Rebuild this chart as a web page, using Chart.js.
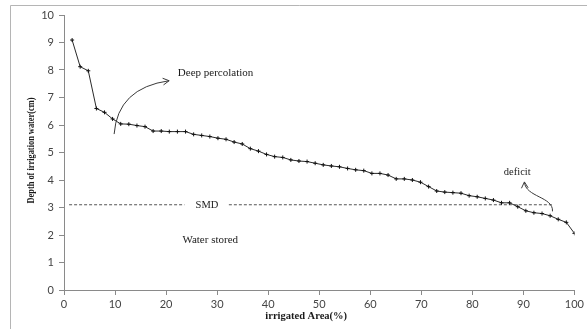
<!DOCTYPE html>
<html>
<head>
<meta charset="utf-8">
<script src="https://cdn.jsdelivr.net/npm/chart.js@4"></script>
<style>
  html, body { margin: 0; padding: 0; background: #fff; }
  #wrap { width: 587px; height: 329px; }
</style>
</head>
<body>
<div id="wrap"><canvas id="c" width="587" height="329"></canvas></div>
<script>
// ---- data ----
const irrigatedArea = [1.59, 3.17, 4.76, 6.35, 7.94, 9.52, 11.11, 12.70, 14.29, 15.87,
  17.46, 19.05, 20.63, 22.22, 23.81, 25.40, 26.98, 28.57, 30.16, 31.75,
  33.33, 34.92, 36.51, 38.10, 39.68, 41.27, 42.86, 44.44, 46.03, 47.62,
  49.21, 50.79, 52.38, 53.97, 55.56, 57.14, 58.73, 60.32, 61.90, 63.49,
  65.08, 66.67, 68.25, 69.84, 71.43, 73.02, 74.60, 76.19, 77.78, 79.37,
  80.95, 82.54, 84.13, 85.71, 87.30, 88.89, 90.48, 92.06, 93.65, 95.24,
  96.83, 98.41, 100];
const depthOfWater = [9.09, 8.12, 7.97, 6.60, 6.46, 6.22, 6.04, 6.03, 5.98, 5.94,
  5.78, 5.78, 5.76, 5.76, 5.76, 5.66, 5.62, 5.58, 5.52, 5.48,
  5.38, 5.31, 5.14, 5.05, 4.93, 4.85, 4.82, 4.73, 4.69, 4.67,
  4.61, 4.55, 4.51, 4.48, 4.42, 4.37, 4.34, 4.24, 4.24, 4.18,
  4.04, 4.04, 4.00, 3.92, 3.76, 3.60, 3.56, 3.54, 3.52, 3.43,
  3.39, 3.33, 3.27, 3.17, 3.17, 3.03, 2.88, 2.81, 2.78, 2.70,
  2.57, 2.46, 2.06];
const smdLevel = 3.1;
const smdSegmentX = [1.0, 23.6, null, 32.3, 95.6];   // null = gap for the "SMD" label
const xTickValues = [0, 10, 20, 30, 40, 50, 60, 70, 80, 90, 100];
const yTickValues = [0, 1, 2, 3, 4, 5, 6, 7, 8, 9, 10];
const xTitle = 'irrigated Area(%)';
const yTitle = 'Depth of irrigation water(cm)';
const notes = [
  { text: 'Deep percolation', x: 22.3, y: 7.9, align: 'left', size: 11 },
  { text: 'SMD', x: 28.0, y: 3.1, align: 'center', size: 10.5 },
  { text: 'Water stored', x: 23.2, y: 1.82, align: 'left', size: 11 },
  { text: 'deficit', x: 88.8, y: 4.29, align: 'center', size: 10.5 }
];

// ---- chart ----
const mainSeries = irrigatedArea.map((x, i) => ({ x: x, y: depthOfWater[i] }));
const smdSeries = smdSegmentX.map((x, i) =>
  x === null ? { x: (smdSegmentX[i - 1] + smdSegmentX[i + 1]) / 2, y: null } : { x: x, y: smdLevel });

const axisColor = '#8a8a8a';
const tickFont = { family: 'Lato, "Open Sans", sans-serif', size: 11 };

function arrow(ctx, pts, bez) {
  ctx.beginPath();
  ctx.moveTo(pts[0].x, pts[0].y);
  if (bez === 2) ctx.quadraticCurveTo(pts[1].x, pts[1].y, pts[2].x, pts[2].y);
  else ctx.bezierCurveTo(pts[1].x, pts[1].y, pts[2].x, pts[2].y, pts[3].x, pts[3].y);
  ctx.stroke();
  const e = pts[pts.length - 1], p = pts[pts.length - 2];
  const a = Math.atan2(e.y - p.y, e.x - p.x);
  const L = 7, w = 0.5;
  ctx.beginPath();
  ctx.moveTo(e.x - L * Math.cos(a - w), e.y - L * Math.sin(a - w));
  ctx.lineTo(e.x, e.y);
  ctx.lineTo(e.x - L * Math.cos(a + w), e.y - L * Math.sin(a + w));
  ctx.stroke();
}

const decor = {
  id: 'decor',
  beforeDraw(chart) {
    const ctx = chart.ctx;
    ctx.save();
    ctx.strokeStyle = '#b5b5b5';
    ctx.lineWidth = 1;
    ctx.beginPath();
    ctx.moveTo(10.5, 330);
    ctx.lineTo(10.5, 5.5);
    ctx.lineTo(590, 5.5);
    ctx.stroke();
    ctx.restore();
  },
  afterDraw(chart) {
    const ctx = chart.ctx;
    const xs = chart.scales.x, ys = chart.scales.y;
    const P = (x, y) => ({ x: xs.getPixelForValue(x), y: ys.getPixelForValue(y) });
    ctx.save();
    ctx.fillStyle = '#1a1a1a';
    ctx.textBaseline = 'middle';
    notes.forEach(n => {
      ctx.font = n.size + 'px "Liberation Serif", "Times New Roman", serif';
      ctx.textAlign = n.align;
      const p = P(n.x, n.y);
      ctx.fillText(n.text, p.x, p.y);
    });
    // axis titles
    ctx.font = 'bold 10.5px "Liberation Serif", "Times New Roman", serif';
    ctx.textAlign = 'center';
    ctx.fillText(xTitle, (xs.left + xs.right) / 2 - 13, 316);
    ctx.save();
    ctx.translate(31.5, 150.5);
    ctx.rotate(-Math.PI / 2);
    ctx.font = 'bold 10.5px "Liberation Serif", "Times New Roman", serif';
    const w = ctx.measureText(yTitle).width;
    ctx.scale(106 / w, 1);
    ctx.fillText(yTitle, 0, 0);
    ctx.restore();
    // arrows
    ctx.strokeStyle = '#3a3a3a';
    ctx.lineWidth = 1;
    arrow(ctx, [P(9.82, 5.67), P(10.5, 7.35), P(20.6, 7.61)], 2);
    arrow(ctx, [P(95.7, 2.86), P(95.9, 3.40), P(90.4, 3.37), P(90.2, 3.93)], 3);
    ctx.restore();
  }
};

new Chart(document.getElementById('c'), {
  type: 'line',
  data: {
    datasets: [
      {
        data: mainSeries,
        borderColor: '#2a2a2a',
        borderWidth: 1,
        pointStyle: 'cross',
        pointRadius: 2,
        pointBorderColor: '#111',
        pointBorderWidth: 1,
        tension: 0,
        fill: false
      },
      {
        data: smdSeries,
        borderColor: '#555',
        borderWidth: 1,
        borderDash: [3, 2],
        pointRadius: 0,
        spanGaps: false,
        fill: false
      }
    ]
  },
  options: {
    responsive: false,
    animation: false,
    devicePixelRatio: 1,
    layout: { padding: { top: 15, right: 11, left: 0, bottom: 0 } },
    plugins: { legend: { display: false }, tooltip: { enabled: false } },
    scales: {
      x: {
        type: 'linear',
        min: 0, max: 100,
        afterBuildTicks: s => { s.ticks = xTickValues.map(v => ({ value: v })); },
        afterFit: s => { s.height = 39; },
        ticks: { color: '#444', font: tickFont, padding: 3, maxRotation: 0 },
        grid: { drawOnChartArea: false, drawTicks: true, tickLength: 5, color: axisColor },
        border: { color: axisColor }
      },
      y: {
        type: 'linear',
        min: 0, max: 10,
        afterBuildTicks: s => { s.ticks = yTickValues.map(v => ({ value: v })); },
        afterFit: s => { s.width = 64; },
        ticks: { color: '#444', font: tickFont, padding: 5 },
        grid: { drawOnChartArea: false, drawTicks: true, tickLength: 5, color: axisColor },
        border: { color: axisColor }
      }
    }
  },
  plugins: [decor]
});
</script>
</body>
</html>
